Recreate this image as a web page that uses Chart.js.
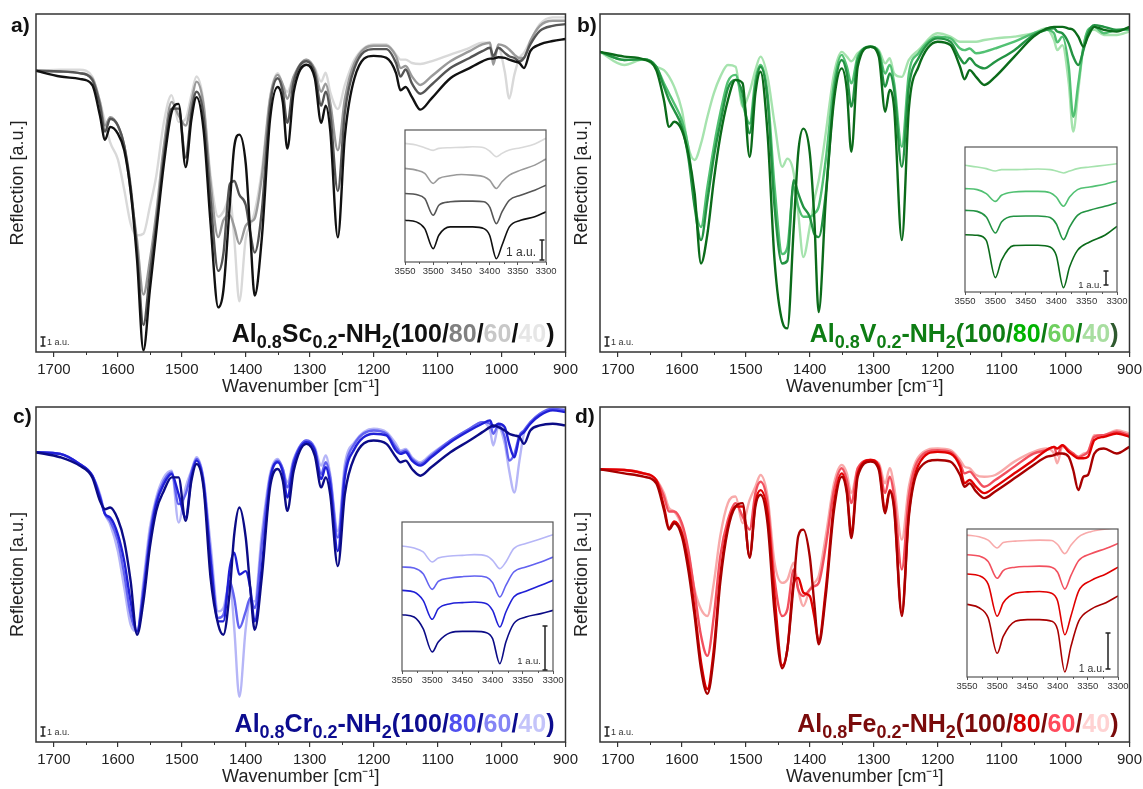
<!DOCTYPE html>
<html>
<head>
<meta charset="utf-8">
<title>IR reflection spectra</title>
<script src="https://cdn.jsdelivr.net/npm/chart.js@4.4.1/dist/chart.umd.min.js"></script>
<style>
  body { margin: 0; background: #fff; }
  #page { position: relative; width: 1143px; height: 789px; overflow: hidden; font-family: "Liberation Sans", Arial, sans-serif; }
  #page canvas { position: absolute; display: block; }
  .tag { position: absolute; font-weight: bold; font-size: 21px; line-height: 21px; color: #111; }
</style>
</head>
<body>
<div id="page">
  <canvas id="mainA" width="580" height="388" style="left:2px;top:10px"></canvas>
  <canvas id="mainB" width="580" height="388" style="left:566px;top:10px"></canvas>
  <canvas id="mainC" width="580" height="385" style="left:2px;top:403px"></canvas>
  <canvas id="mainD" width="580" height="385" style="left:566px;top:403px"></canvas>
  <canvas id="insetA" width="169" height="152" style="left:391px;top:128px"></canvas>
  <canvas id="insetB" width="180" height="165" style="left:951px;top:145px"></canvas>
  <canvas id="insetC" width="179" height="169" style="left:388px;top:520px"></canvas>
  <canvas id="insetD" width="179" height="168" style="left:953px;top:527px"></canvas>
  <div class="tag" style="left:11px;top:14px">a)</div>
  <div class="tag" style="left:577px;top:14px">b)</div>
  <div class="tag" style="left:13px;top:405px">c)</div>
  <div class="tag" style="left:575px;top:405px">d)</div>
</div>
<script>
// wavenumber grid (cm-1) shared by all main spectra
const wavenumbers = [
  1728, 1690, 1660, 1640, 1628, 1620, 1612, 1600, 1590, 1580,
  1570, 1560, 1550, 1540, 1528, 1516, 1505, 1494, 1485, 1477,
  1466, 1455, 1443, 1435, 1425, 1418, 1410, 1400, 1393, 1386,
  1375, 1362, 1350, 1342, 1335, 1325, 1305, 1292, 1282, 1275,
  1268, 1256, 1245, 1230, 1200, 1180, 1165, 1158, 1150, 1140,
  1127, 1110, 1080, 1050, 1030, 1018, 1013, 1005, 995, 988,
  980, 972, 965, 955, 940, 920, 900
];
// N-H stretch region of the insets
const insetWavenumbers = [3550, 3530, 3515, 3500, 3490, 3470, 3450, 3430, 3410, 3400, 3388, 3378, 3365, 3345, 3320, 3300];
const loadings = ["100", "80", "60", "40"];

// a) Al0.8Sc0.2-NH2
const sc100 = [
  83.2, 81.5, 80.8, 79, 70, 62.8, 66.6, 64.6, 59.7, 47.6,
  27.3, 0.5, 18.2, 35.4, 55.7, 70.9, 73.4, 54.7, 68.8, 75.4,
  65.8, 38, 13.2, 18.2, 43.5, 60.7, 64.3, 55.7, 35.4, 16.7,
  33.4, 68.8, 78.4, 73.9, 60.2, 76.9, 85, 81, 67.8, 72.9,
  65.8, 33.9, 63.8, 81, 87.6, 87, 82.5, 77.4, 78.4, 75.4,
  71.7, 74.9, 81, 84, 86, 86.8, 86.8, 87.2, 87, 86.5,
  86, 85.5, 84, 89, 91, 92, 92.6
];
const sc80 = [
  83.2, 83, 82.5, 80.5, 73, 65.2, 69, 67, 61, 49,
  30, 8, 23, 38, 58, 72, 72, 57.5, 71, 77,
  70, 45, 24, 29, 49.6, 50.6, 46.5, 43.5, 35.4, 29.4,
  41.5, 72.9, 81, 77, 67.8, 80, 86, 82.6, 72.9, 77,
  70.9, 47.6, 70.9, 84, 89.6, 89.6, 85.5, 81.5, 83.6, 79.4,
  76.4, 79, 84, 87, 89, 90, 87.5, 90, 88.5, 87.5,
  87, 86, 87, 91, 95, 96.5, 97
];
const sc60 = [
  83.2, 83, 82.5, 81, 74, 67, 69.5, 67, 61, 47.6,
  33, 17, 27, 41, 61, 74, 70, 67, 74, 80,
  73, 50, 34, 39, 40.5, 37, 32, 37.4, 38.5, 39.5,
  51.6, 74.9, 82, 79, 74.9, 81.5, 86.5, 83.6, 77, 79.4,
  73.9, 59.7, 74.9, 85.5, 90.6, 90.6, 87.5, 84, 84.6, 81.5,
  79, 81.5, 86, 89, 91, 91.5, 85, 91, 90.5, 89.5,
  88, 87, 87, 92, 96.5, 98, 98
];
const sc40 = [
  83.2, 83.5, 83.5, 81.5, 74, 68, 62, 57, 48, 38,
  34.5, 35, 43, 52, 68, 76, 68, 69, 76, 81.5,
  74, 52, 40, 41.5, 45.5, 33.6, 15, 33.6, 37.4, 41.5,
  53.6, 75.4, 82.5, 79, 77, 81.5, 86.5, 84, 80, 82.6,
  77, 71.9, 79, 86.5, 91, 91, 88, 86.5, 86.5, 85.5,
  85.2, 86, 88, 90, 91.5, 91.5, 86, 90, 83, 75,
  82, 87, 88.5, 92, 97, 99, 99
];
const scIn100 = [31.6, 30.4, 25.3, 10.1, 20.3, 26.6, 26.6, 26.6, 25.3, 20.3, 2.5, 12.7, 26.6, 31.6, 34.2, 38];
const scIn80 = [51.9, 51.1, 48.1, 35.4, 43, 45.6, 46.1, 46.1, 45.6, 41.8, 29.1, 38, 46.8, 50.6, 54.4, 58.2];
const scIn60 = [70.9, 69.6, 67.1, 59.5, 63.3, 65.3, 66.3, 65.8, 64.6, 62, 55.7, 60.8, 65.8, 69.6, 73.4, 78];
const scIn40 = [89.9, 88.6, 86.6, 84.6, 86.1, 86.6, 86.8, 87.3, 86.6, 84.1, 79.7, 82.3, 84.8, 86.6, 89.4, 93.7];

// b) Al0.8V0.2-NH2
const v100 = [
  88.8, 87.4, 86.6, 83.4, 74.5, 66.6, 68.1, 65.6, 58.7, 46.9,
  26.2, 35, 50.8, 63.7, 74.5, 80.5, 79.5, 57.7, 76.5, 82.9,
  64.7, 27, 9, 7, 37, 59, 66.1, 59, 40, 11.8,
  44.9, 74.5, 83.9, 77.5, 59.2, 84.4, 90.3, 87.4, 71.1, 77.5,
  72, 33.1, 72, 84.4, 91.8, 90.8, 84.4, 80.7, 83.4, 81.4,
  79, 81.4, 87.4, 93.3, 95.7, 96.2, 96.2, 96.2, 95.7, 95.3,
  93.3, 90.3, 93.3, 96.2, 95.3, 94.8, 96.2
];
const v80 = [
  88.8, 86.4, 86.6, 84.4, 78.5, 74.5, 71.5, 66.6, 57.7, 42.9,
  33.1, 44.9, 57.7, 67.6, 78, 80.5, 76.5, 64.7, 78.5, 84.4,
  74.5, 42.9, 26.2, 27, 50.8, 46.9, 43, 40, 35, 34,
  46.9, 76.5, 86.4, 82.4, 72.6, 86.4, 90.3, 88.4, 78.5, 82.4,
  77.5, 54.8, 78.5, 86.9, 92.8, 91.8, 86.9, 85.4, 86.9, 84.9,
  83.9, 85.9, 89.3, 93.8, 95.3, 95.8, 94.8, 94.3, 91.3, 87.4,
  84.9, 89.3, 94.3, 96.7, 96.2, 95.3, 95.8
];
const v60 = [
  88.8, 86.4, 86.6, 84.4, 79.5, 76.5, 73.5, 68.6, 60.7, 43.9,
  37, 48.9, 60.7, 70.6, 80, 82, 73.5, 67.6, 80.5, 84.9,
  76.5, 48.9, 29, 31, 48.9, 43, 40, 40, 41, 43,
  56.8, 79.5, 87.9, 84.4, 79.5, 87.4, 90.3, 88.8, 82.4, 84.9,
  79.5, 60.7, 82.4, 88.4, 93.3, 92.8, 89.8, 89.3, 89.8, 88.4,
  88.8, 89.8, 91.8, 94.3, 95.3, 94.3, 91.6, 93.3, 84.4, 69.6,
  79.5, 90.3, 95.3, 96.2, 94.3, 95.3, 95.3
];
const v40 = [
  88.8, 84.9, 86.6, 84.4, 83.4, 81.5, 78.5, 71.6, 60.7, 56.8,
  61.7, 69.6, 76.5, 81.4, 84.9, 84.4, 72.6, 77, 83.4, 87.4,
  81.4, 67.6, 54.8, 57.2, 52.8, 41, 28.1, 37, 44.9, 50.8,
  64.7, 82.4, 88.8, 87.4, 86, 88.4, 90.3, 89.3, 85.4, 86.9,
  82.4, 81.4, 86.4, 89.3, 94.3, 93.3, 91.8, 91.8, 91.8, 91.8,
  92.3, 92.8, 93.3, 94.3, 95.8, 92.3, 89.3, 90.8, 79.5, 65.2,
  77.5, 90.3, 94.8, 95.3, 93.8, 93.8, 94.8
];
const vIn100 = [39.5, 39.1, 35.6, 9.9, 21.8, 32, 32.2, 32.2, 31, 25.3, 3, 17.2, 28.7, 34.5, 39.1, 45.3];
const vIn80 = [56.3, 55.6, 51.7, 40.7, 48.3, 52.2, 52.4, 52.4, 51.3, 47.1, 36.1, 44.8, 52.9, 56.3, 59.1, 61.6];
const vIn60 = [71.3, 70.6, 67.8, 62.5, 66.7, 69, 69.4, 69.4, 68.5, 65.5, 59.1, 65.5, 70.6, 72.4, 74.3, 76.6];
const vIn40 = [87.4, 86.2, 85.1, 83.4, 84.4, 84.4, 84.6, 84.8, 84.4, 83.4, 82.1, 83.4, 85.1, 86.2, 87.4, 88.5];

// c) Al0.8Cr0.2-NH2
const cr100 = [
  86.5, 85, 82.5, 79, 72, 69.5, 70, 66.5, 60, 48,
  32, 42, 58, 69, 75, 79, 79, 66, 78, 83,
  76, 49, 35, 32, 45, 62, 70, 61, 46, 33.5,
  49, 76, 81.5, 78, 69, 81, 89, 85.5, 76, 79,
  74, 52.5, 74, 85, 90, 89, 85, 83.5, 84, 81.5,
  79.5, 82, 86.5, 90, 92.5, 94, 94.5, 94, 93, 92,
  91.5, 91, 89, 93, 94.5, 95, 94.5
];
const cr80 = [
  86.5, 86, 83, 79.5, 73, 68, 67, 62, 54, 42,
  33, 44, 60, 71, 77, 80, 74, 67, 79, 84,
  77, 54, 36, 36, 52, 56.5, 50, 51, 46, 36,
  52, 78, 83.5, 80.5, 73, 83, 89.5, 87, 78.5, 82,
  77, 57, 79, 87.5, 92, 91.5, 87, 86, 86.5, 84,
  82.5, 85, 89.5, 93, 95, 96, 94, 95, 94, 89,
  85, 91, 92.5, 95, 97.5, 99, 98.5
];
const cr60 = [
  86.5, 86, 83, 79.5, 73.5, 68, 66, 60, 50, 38,
  33, 46, 62, 72, 78, 80.5, 71, 74, 80.5, 84.5,
  78, 56, 37, 38, 48, 43, 34, 39, 43, 40,
  59, 79, 84, 81.5, 76, 84, 90, 87.5, 80, 83.5,
  79, 61, 81, 89, 93, 92, 88, 86.5, 87, 84.5,
  83, 85.5, 90, 93.5, 95.5, 95, 92, 94.5, 91, 84,
  86, 91.5, 93, 95.5, 98, 99.5, 99
];
const cr40 = [
  86.5, 86, 83, 79.5, 74, 68, 65, 57, 46, 35,
  33, 48, 64, 73, 79, 81, 65.5, 76, 81, 85,
  78.5, 59, 39, 40, 48, 34, 13.5, 34, 42, 42,
  62, 80, 84.5, 81.5, 77.5, 84.5, 90, 88, 82.5, 85.5,
  80, 63, 83, 89.5, 93.5, 92.5, 89, 87, 87.5, 85,
  83.5, 86, 90, 93.5, 95.5, 93, 88.5, 94, 89, 81,
  74.5, 84, 92, 95, 98, 99.5, 99.5
];
const crIn100 = [37.8, 36.2, 28.4, 12.8, 19.5, 25.7, 26.6, 26.6, 25.7, 21.7, 4.9, 19.5, 31.8, 36.2, 38.5, 40.7];
const crIn80 = [54.1, 53, 47.4, 34.7, 41.8, 45.2, 45.9, 46.3, 45.2, 40.7, 29.5, 39.6, 49.7, 53.5, 57.5, 60.9];
const crIn60 = [69.8, 69.1, 65.3, 54.8, 60.2, 62.4, 63.3, 63.8, 62.9, 59.3, 49.7, 57.5, 66.4, 69.8, 73.2, 76.5];
const crIn40 = [83.9, 82.6, 79.9, 73.2, 75.8, 77.2, 77.6, 78.1, 77.2, 74.3, 68.7, 73.2, 82.1, 85.5, 88.8, 91.5];

// d) Al0.8Fe0.2-NH2
const fe100 = [
  81.4, 80.2, 79.2, 77.2, 69.3, 63.4, 65.3, 61.4, 51.5, 37.6,
  21.8, 14.4, 25.7, 47.5, 63.4, 70.3, 71.3, 55, 70.3, 73.8,
  65.3, 38.6, 22, 27.7, 47.5, 61.4, 63.4, 55.4, 41.6, 29.2,
  43.6, 69.3, 79.2, 74.3, 60.9, 79.2, 83.7, 81.2, 68.3, 74.8,
  69.3, 37.6, 67.3, 81.2, 84.2, 83.7, 79.7, 76.2, 77.2, 74.8,
  72.8, 74.8, 78.7, 82.7, 85.1, 85.6, 86.1, 86.1, 85.1, 81.2,
  75.2, 79.2, 79.7, 86.1, 87.6, 86.1, 88.1
];
const fe80 = [
  81.4, 81.2, 80.2, 78.2, 70.3, 63.9, 65.8, 62.4, 53.5, 39.6,
  23.8, 15.8, 27.7, 49.5, 64.4, 70.3, 70.3, 55.4, 71.3, 75.2,
  68.3, 43.6, 22.8, 27.7, 47.5, 49, 44.6, 43.6, 37.6, 30.2,
  45.5, 71.3, 80.2, 75.2, 62.4, 80.2, 84.2, 82.2, 69.3, 75.2,
  70.3, 38.6, 68.3, 82.7, 86.6, 86.1, 82.2, 77.2, 78.2, 76.2,
  74.3, 76.2, 80.2, 84.2, 87.1, 88.1, 87.6, 88.6, 86.6, 85.6,
  84.7, 84.7, 85.1, 90.1, 91.1, 92.1, 91.1
];
const fe60 = [
  81.4, 81.2, 80.2, 78.2, 73.3, 68.8, 68.8, 65.3, 57.4, 44.6,
  31.7, 25.7, 37.6, 55.4, 66.3, 71.3, 67.3, 63.4, 74.3, 77.7,
  71.3, 48.5, 37.6, 39.6, 51.5, 45.5, 43.6, 45.5, 46.5, 47.5,
  58.4, 75.2, 81.7, 78.2, 71.3, 81.7, 84.2, 82.7, 74.3, 79.2,
  73.3, 51.5, 73.3, 84.2, 87.1, 86.6, 83.2, 80.2, 80.7, 78.7,
  76.2, 78.2, 82.2, 86.1, 87.1, 88.1, 85.6, 88.6, 87.1, 86.1,
  85.1, 85.6, 86.6, 91.1, 91.6, 92.6, 91.6
];
const fe40 = [
  81.4, 81.2, 80.2, 78.2, 74.3, 69.8, 68.8, 64.4, 56.4, 45.5,
  39.6, 37.6, 47.5, 61.4, 71.3, 73.3, 65.3, 72.3, 76.2, 79.7,
  73.3, 53.5, 47.5, 48.5, 53.5, 45.5, 40.6, 45.5, 47.5, 49.5,
  61.4, 77.2, 82.7, 80.2, 74.3, 81.7, 84.2, 83.2, 77.2, 81.7,
  76.2, 60.4, 76.2, 85.1, 87.6, 87.1, 84.2, 82.2, 81.7, 79.7,
  79.2, 79.7, 83.7, 86.6, 87.6, 86.1, 83.2, 88.1, 87.1, 86.1,
  85.1, 86.1, 86.6, 91.6, 91.6, 93.1, 92.1
];
const feIn100 = [49.1, 46.8, 40, 16, 27.4, 37.7, 38.8, 38.8, 37.7, 32, 3.4, 20.5, 37.7, 45.7, 50.2, 54.8];
const feIn80 = [69.6, 68.5, 62.8, 41.1, 50.2, 56.6, 57.5, 57.8, 56.6, 51.4, 28.5, 41.1, 58.2, 65.1, 69.6, 74.2];
const feIn60 = [82.6, 81.7, 78.1, 66.7, 71.9, 74.2, 74.7, 74.9, 74.2, 70.8, 59.4, 68.5, 78.8, 83.3, 86.8, 90.2];
const feIn40 = [95.9, 94.7, 92.5, 87.2, 90.9, 91.8, 92.2, 92.5, 92.2, 89.5, 83.3, 89, 94.7, 98.2, 100, 101];

// formula pieces: [text, isSubscript]
const formulaSc = [["Al", 0], ["0.8", 1], ["Sc", 0], ["0.2", 1], ["-NH", 0], ["2", 1]];
const formulaV = [["Al", 0], ["0.8", 1], ["V", 0], ["0.2", 1], ["-NH", 0], ["2", 1]];
const formulaCr = [["Al", 0], ["0.8", 1], ["Cr", 0], ["0.2", 1], ["-NH", 0], ["2", 1]];
const formulaFe = [["Al", 0], ["0.8", 1], ["Fe", 0], ["0.2", 1], ["-NH", 0], ["2", 1]];

Chart.defaults.font.family = "'Liberation Sans', Arial, sans-serif";
Chart.defaults.color = "#222";

const panels = [
  {
    main: "mainA", inset: "insetA", formula: formulaSc,
    series: [sc100, sc80, sc60, sc40], insetSeries: [scIn100, scIn80, scIn60, scIn40],
    colors: ["#111111", "#555555", "#9a9a9a", "#d9d9d9"],
    baseColor: "#111111", closeColor: "#111111",
    legendColors: ["#111111", "#808080", "#c8c8c8", "#e6e6e6"],
    bar: { dx: 4, top: 22, bottom: 2, textDx: 10, textDy: 9, size: 12 }
  },
  {
    main: "mainB", inset: "insetB", formula: formulaV,
    series: [v100, v80, v60, v40], insetSeries: [vIn100, vIn80, vIn60, vIn40],
    colors: ["#0b6b1a", "#239343", "#52c173", "#a6e3ae"],
    baseColor: "#0e7d14", closeColor: "#2f5a2f",
    legendColors: ["#0e7d14", "#00b300", "#6fcf5f", "#a8dea0"],
    bar: { dx: 11, top: 21, bottom: 7, textDx: 15, textDy: 7, size: 9.5 }
  },
  {
    main: "mainC", inset: "insetC", formula: formulaCr,
    series: [cr100, cr80, cr60, cr40], insetSeries: [crIn100, crIn80, crIn60, crIn40],
    colors: ["#0b0b86", "#2020d6", "#6262f0", "#b6b6f7"],
    baseColor: "#0c0c8f", closeColor: "#0c0c8f",
    legendColors: ["#0c0c8f", "#4f4fee", "#8585f5", "#c4c4fa"],
    bar: { dx: 8, top: 45, bottom: 1, textDx: 12, textDy: 10, size: 9.5 }
  },
  {
    main: "mainD", inset: "insetD", formula: formulaFe,
    series: [fe100, fe80, fe60, fe40], insetSeries: [feIn100, feIn80, feIn60, feIn40],
    colors: ["#a80000", "#e00000", "#f2505e", "#f8aaaa"],
    baseColor: "#7a0b0b", closeColor: "#7a0b0b",
    legendColors: ["#7a0b0b", "#d80000", "#ff4a5c", "#ffd2d2"],
    bar: { dx: 10, top: 44, bottom: 8, textDx: 13, textDy: 8, size: 10.5 }
  }
];

function toPoints(xs, ys) {
  return xs.map((x, i) => ({ x: x, y: ys[i] }));
}

// frame, minor ticks, "1 a.u." bar and composition label
const panelDecor = {
  id: "panelDecor",
  beforeDatasetsDraw(chart, args, opts) {
    if (!opts.fillArea) return;
    const a = chart.chartArea;
    chart.ctx.save();
    chart.ctx.fillStyle = "#fff";
    chart.ctx.fillRect(a.left, a.top, a.right - a.left, a.bottom - a.top);
    chart.ctx.restore();
  },
  afterDraw(chart, args, opts) {
    const ctx = chart.ctx;
    const a = chart.chartArea;
    const xs = chart.scales.x;
    ctx.save();
    ctx.strokeStyle = opts.frameColor;
    ctx.lineWidth = opts.frameWidth;
    ctx.strokeRect(a.left, a.top, a.right - a.left, a.bottom - a.top);

    // minor ticks, shorter than the labelled ones
    ctx.lineWidth = 1;
    ctx.beginPath();
    xs.ticks.forEach(t => {
      if (t.value % opts.major === 0) return;
      const px = Math.round(xs.getPixelForValue(t.value)) + 0.5;
      ctx.moveTo(px, a.bottom);
      ctx.lineTo(px, a.bottom + opts.minorLen);
    });
    ctx.stroke();

    // scale bar
    const b = opts.bar;
    const bx = b.fromRight ? a.right - b.dx : a.left + b.dx;
    const y1 = a.bottom - b.top, y2 = a.bottom - b.bottom;
    ctx.strokeStyle = "#222";
    ctx.lineWidth = 1.5;
    ctx.beginPath();
    ctx.moveTo(bx, y1); ctx.lineTo(bx, y2);
    ctx.moveTo(bx - 2.5, y1); ctx.lineTo(bx + 2.5, y1);
    ctx.moveTo(bx - 2.5, y2); ctx.lineTo(bx + 2.5, y2);
    ctx.stroke();
    ctx.fillStyle = "#333";
    ctx.font = b.size + "px 'Liberation Sans', Arial, sans-serif";
    ctx.textBaseline = "middle";
    if (b.fromRight) {
      ctx.textAlign = "right";
      ctx.fillText("1 a.u.", a.right - b.textDx, a.bottom - b.textDy);
    } else {
      ctx.textAlign = "left";
      ctx.fillText("1 a.u.", a.left + b.textDx, a.bottom - b.textDy);
    }

    // composition label
    if (opts.legend) {
      const big = "bold 25px 'Liberation Sans', Arial, sans-serif";
      const small = "bold 18px 'Liberation Sans', Arial, sans-serif";
      ctx.textAlign = "left";
      ctx.textBaseline = "alphabetic";
      let total = 0;
      opts.legend.forEach(p => {
        ctx.font = p.sub ? small : big;
        p.w = ctx.measureText(p.t).width;
        total += p.w;
      });
      let x = a.right - 11 - total;
      const base = a.bottom - 10;
      opts.legend.forEach(p => {
        ctx.font = p.sub ? small : big;
        ctx.fillStyle = p.c;
        ctx.fillText(p.t, x, p.sub ? base + 6 : base);
        x += p.w;
      });
    }
    ctx.restore();
  }
};

function legendParts(p) {
  const parts = p.formula.map(f => ({ t: f[0], c: p.baseColor, sub: !!f[1] }));
  parts.push({ t: "(", c: p.baseColor });
  loadings.forEach((l, i) => {
    if (i > 0) parts.push({ t: "/", c: p.baseColor });
    parts.push({ t: l, c: p.legendColors[i] });
  });
  parts.push({ t: ")", c: p.closeColor });
  return parts;
}

function makeMain(p) {
  return new Chart(document.getElementById(p.main), {
    type: "line",
    data: {
      datasets: p.series.map((vals, i) => ({
        label: loadings[i],
        data: toPoints(wavenumbers, vals),
        borderColor: p.colors[i],
        borderWidth: 2.4,
        pointRadius: 0,
        cubicInterpolationMode: "monotone"
      }))
    },
    options: {
      responsive: false,
      animation: false,
      events: [],
      layout: { padding: { left: 5, right: 16, top: 4, bottom: 0 } },
      plugins: {
        legend: { display: false },
        tooltip: { enabled: false },
        panelDecor: {
          frameColor: "#333", frameWidth: 1.5, major: 100, minorLen: 3,
          bar: { dx: 7, top: 15, bottom: 6, textDx: 11, textDy: 9, size: 9 },
          legend: legendParts(p)
        }
      },
      scales: {
        x: {
          type: "linear", reverse: true, min: 900, max: 1728,
          ticks: {
            stepSize: 50, autoSkip: false, maxRotation: 0, includeBounds: false,
            padding: 4, font: { size: 15 }, color: "#222",
            callback: v => (v % 100 === 0 ? String(v) : "")
          },
          grid: {
            drawOnChartArea: false, drawTicks: true, tickLength: 5, lineWidth: 1.2,
            color: c => (c.tick && c.tick.value % 100 === 0 ? "#333" : "rgba(0,0,0,0)")
          },
          border: { display: false },
          title: { display: true, text: "Wavenumber [cm\u207B\u00B9]", font: { size: 18 }, color: "#222", padding: 0 },
          afterFit: s => { s.height = 46; }
        },
        y: {
          min: 0, max: 100,
          ticks: { display: false },
          grid: { display: false },
          border: { display: false },
          title: { display: true, text: "Reflection [a.u.]", font: { size: 18 }, color: "#222", padding: 0 },
          afterFit: s => { s.width = 29; }
        }
      }
    },
    plugins: [panelDecor]
  });
}

function makeInset(p) {
  return new Chart(document.getElementById(p.inset), {
    type: "line",
    data: {
      datasets: p.insetSeries.map((vals, i) => ({
        label: loadings[i],
        data: toPoints(insetWavenumbers, vals),
        borderColor: p.colors[i],
        borderWidth: 1.6,
        pointRadius: 0,
        cubicInterpolationMode: "monotone"
      }))
    },
    options: {
      responsive: false,
      animation: false,
      events: [],
      layout: { padding: { left: 14, right: 14, top: 2, bottom: 0 } },
      plugins: {
        legend: { display: false },
        tooltip: { enabled: false },
        panelDecor: {
          fillArea: true, frameColor: "#555", frameWidth: 1.2, major: 50, minorLen: 2,
          bar: Object.assign({ fromRight: true }, p.bar)
        }
      },
      scales: {
        x: {
          type: "linear", reverse: true, min: 3300, max: 3550,
          ticks: {
            stepSize: 25, autoSkip: false, maxRotation: 0,
            padding: 1, font: { size: 9.5 }, color: "#333",
            callback: v => (v % 50 === 0 ? String(v) : "")
          },
          grid: {
            drawOnChartArea: false, drawTicks: true, tickLength: 3, lineWidth: 1,
            color: c => (c.tick && c.tick.value % 50 === 0 ? "#555" : "rgba(0,0,0,0)")
          },
          border: { display: false },
          afterFit: s => { s.height = 18; }
        },
        y: { display: false, min: 0, max: 100 }
      }
    },
    plugins: [panelDecor]
  });
}

panels.forEach(p => {
  makeMain(p);
  makeInset(p);
});
</script>
</body>
</html>
